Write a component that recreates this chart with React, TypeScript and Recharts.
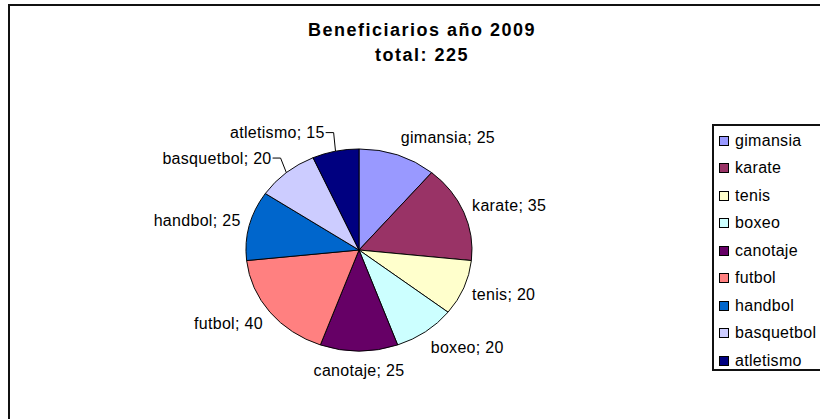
import React from 'react';
import { PieChart, Pie, Cell, Legend } from 'recharts';

const deportes = ['gimansia', 'karate', 'tenis', 'boxeo', 'canotaje', 'futbol', 'handbol', 'basquetbol', 'atletismo'];
const beneficiarios = [25, 35, 20, 20, 25, 40, 25, 20, 15];
const colores = ['#9999FF', '#993366', '#FFFFCC', '#CCFFFF', '#660066', '#FF8080', '#0066CC', '#CCCCFF', '#000080'];
// labels that Excel pulled away from the slice and tied back with a leader line
const conLinea = ['basquetbol', 'atletismo'];

const data = deportes.map((name, i) => ({ name, value: beneficiarios[i] }));

const CX = 359;
const CY = 250;
const R = 113;
const SY = 0.894; // the pie is drawn slightly flattened
const font = '"Liberation Sans", Arial, sans-serif';

const renderLabel = (props: any) => {
  const { cx, cy, midAngle, outerRadius, value, index } = props;
  const name = props.name ?? props.payload?.name;
  const rad = (midAngle * Math.PI) / 180;
  const c = Math.cos(rad);
  const s = Math.sin(rad);
  const ry = outerRadius * SY;
  const px = cx + (outerRadius + 9) * c;
  const py = cy - (ry + 19) * s;
  const leader = conLinea.includes(name);
  const anchor = c > 0.15 ? 'start' : c < -0.15 ? 'end' : 'middle';
  const tx = leader ? px - 9 : px;
  return <g key={`lbl-${index}`}>
      <text x={tx} y={py} textAnchor={anchor} dominantBaseline="central" fontSize={16} fontFamily={font} fill="#000" letterSpacing={0.3}>
        {`${name}; ${value}`}
      </text>
      {leader && <polyline points={`${px - 8},${py} ${px},${py} ${cx + outerRadius * c},${cy - ry * s}`} fill="none" stroke="#000" strokeWidth={1} />}
    </g>;
};

const renderLegend = (props: any) => {
  const items = [...(props.payload || [])].sort((a: any, b: any) => deportes.indexOf(a.value) - deportes.indexOf(b.value));
  return <div style={{
    border: '2px solid #111',
    width: 130,
    height: 242,
    boxSizing: 'content-box',
    paddingTop: 1,
    fontFamily: font,
    fontSize: 16,
    letterSpacing: 0.3,
    background: '#fff'
  }}>
      {items.map((entry: any, i: number) => <div key={i} style={{
      height: 27.5,
      display: 'flex',
      alignItems: 'center',
      paddingLeft: 5
    }}>
          <span style={{
        display: 'inline-block',
        width: 8,
        height: 8,
        border: '1px solid #000',
        background: entry.color,
        marginRight: 6
      }} />
          <span>{entry.value}</span>
        </div>)}
    </div>;
};

const App = () => {
  return <div style={{
    position: 'absolute',
    left: 0,
    top: 0,
    width: 820,
    height: 419,
    overflow: 'hidden',
    background: '#fff'
  }}>
      <style>{`.recharts-pie .recharts-sector{transform:scaleY(${SY});transform-origin:${CX}px ${CY}px;}`}</style>
      <div style={{
      position: 'absolute',
      left: 8,
      top: 4,
      width: 840,
      height: 440,
      border: '2px solid #111'
    }} />
      <div style={{
      position: 'absolute',
      left: 222,
      width: 400,
      top: 18,
      textAlign: 'center',
      fontFamily: font,
      fontWeight: 'bold',
      fontSize: 18,
      lineHeight: '25px',
      letterSpacing: 1.5
    }}>
        <div>Beneficiarios año 2009</div>
        <div>total: 225</div>
      </div>
      <div style={{ position: 'absolute', left: 0, top: 0 }}>
        <PieChart width={820} height={419} margin={{ top: 0, right: 0, bottom: 0, left: 0 }}>
          <Pie data={data} dataKey="value" nameKey="name" cx={CX} cy={CY} outerRadius={R} startAngle={90} endAngle={-270} stroke="#000" strokeWidth={1} label={renderLabel} labelLine={false} isAnimationActive={false}>
            {data.map((d, i) => <Cell key={d.name} fill={colores[i]} />)}
          </Pie>
          <Legend content={renderLegend} wrapperStyle={{
          left: 712,
          top: 124,
          width: 140,
          height: 250
        }} />
        </PieChart>
      </div>
    </div>;
};

export default App;
